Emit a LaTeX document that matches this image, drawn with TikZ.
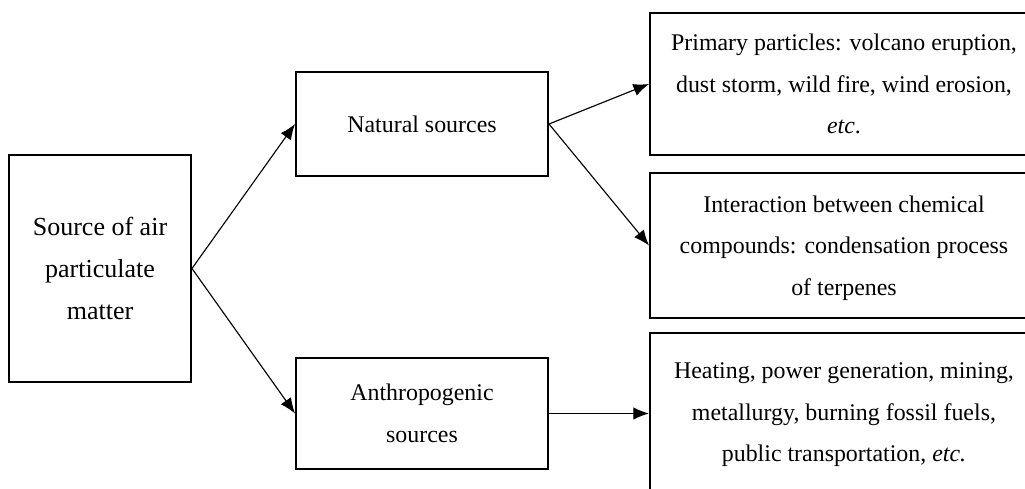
\documentclass[tikz,border=0pt]{standalone}
\usepackage{fontspec}
\setmainfont{Liberation Serif}
\usepackage{tikz}
\usetikzlibrary{arrows.meta,positioning}
\tikzset{
  srcbox/.style={draw=black, line width=1.4pt, fill=white, align=center, inner sep=0pt, font=\fontsize{17}{29.6}\selectfont},
  line/.style={-{Latex[length=3.9mm,width=3.1mm]}, draw=black, line width=0.8pt}
}
\begin{document}
\begin{tikzpicture}[x=1cm,y=1cm]
  \useasboundingbox (0,0) rectangle (25.625,12.2);
  \clip (0,0) rectangle (25.625,12.2);

  \node[srcbox, minimum width=4.55cm, minimum height=5.675cm, font=\fontsize{18.5}{30.2}\selectfont] (source) at (2.5,5.4875) {Source of air\\particulate\\matter};

  \node[srcbox, minimum width=6.3cm, minimum height=2.6cm] (natural) at (10.55,9.1) {Natural sources};
  \node[srcbox, minimum width=6.3cm, minimum height=2.775cm] (anthro) at (10.55,1.8625) {Anthropogenic\\sources};

  \node[srcbox, minimum width=9.7cm, minimum height=3.55cm, text depth=-0.4cm] (primary) at (21.1,10.1) {Primary particles: volcano eruption,\\dust storm, wild fire, wind erosion,\\\textit{etc}.};
  \node[srcbox, minimum width=9.7cm, minimum height=3.625cm, text depth=-0.15cm] (interact) at (21.1,6.0625) {Interaction between chemical\\compounds: condensation process\\of terpenes};
  \node[srcbox, minimum width=9.7cm, minimum height=4.1cm] (heating) at (21.1,1.825) {Heating, power generation, mining,\\metallurgy, burning fossil fuels,\\public transportation, \textit{etc.}};

  \draw[line] (source.east) -- (natural.west);
  \draw[line] (source.east) -- (anthro.west);
  \draw[line] (natural.east) -- (primary.west);
  \draw[line] (natural.east) -- (interact.west);
  \draw[line] (anthro.east) -- (anthro.east -| heating.west);
\end{tikzpicture}
\end{document}
